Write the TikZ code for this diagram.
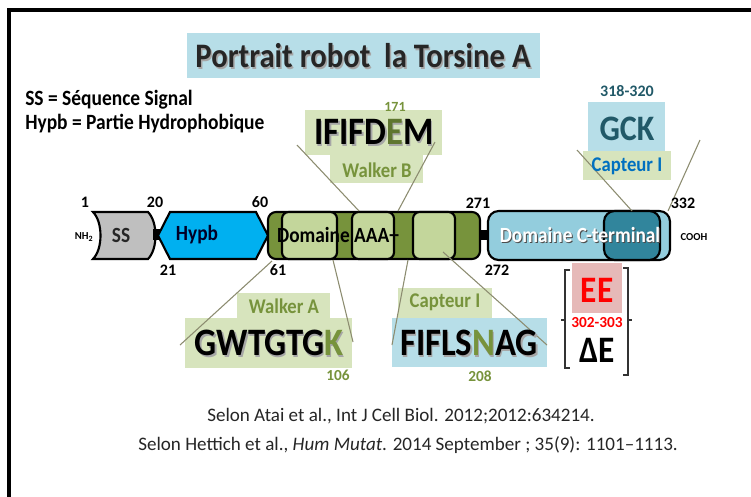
\documentclass[tikz,border=0pt]{standalone}
\usepackage{graphicx}
\usepackage{fontspec}
\setmainfont{Carlito}
\definecolor{titlebg}{HTML}{B7DEE8}
\definecolor{lgreen}{HTML}{D7E4BD}
\definecolor{olivetxt}{HTML}{77933C}
\definecolor{aaafill}{HTML}{77933C}
\definecolor{aaain}{HTML}{C3D69B}
\definecolor{hypbfill}{HTML}{00B0F0}
\definecolor{ssgray}{HTML}{BFBFBF}
\definecolor{ctlight}{HTML}{93CDDD}
\definecolor{ctdark}{HTML}{31859C}
\definecolor{gcktxt}{HTML}{215968}
\definecolor{capblue}{HTML}{0070C0}
\definecolor{eepink}{HTML}{E6B9B8}
\definecolor{calline}{HTML}{8C8C70}
\definecolor{txtdark}{HTML}{262626}
\definecolor{shade}{HTML}{A6A6A6}
% slightly condensed look of the slide lettering
\newcommand{\tallx}[1]{\scalebox{1}[1.12]{#1}}
\begin{document}
\begin{tikzpicture}[x=0.75pt,y=-0.75pt,
  lbl/.style={inner sep=0,outer sep=0,font=\bfseries\fontsize{12}{14}\selectfont,text=black},
  seqtxt/.style={inner sep=0,outer sep=0,font=\bfseries\fontsize{26}{30}\selectfont},
  tagtxt/.style={inner sep=0,outer sep=0,font=\bfseries\fontsize{14}{16}\selectfont,text=olivetxt},
  bartxt/.style={inner sep=0,outer sep=0,font=\bfseries\fontsize{14.5}{16}\selectfont},
  numtxt/.style={inner sep=0,outer sep=0,font=\bfseries\fontsize{11.5}{13}\selectfont,text=olivetxt},
  callout/.style={draw=calline,line width=0.8pt},
  barline/.style={draw=black,line width=1.6pt},
  inbox/.style={barline,fill=aaain,rounded corners=5pt},
  cite/.style={inner sep=0,outer sep=0,font=\fontsize{14.3}{16}\selectfont,text=txtdark}]
\useasboundingbox (0,0) rectangle (751,497);
\fill[white] (0,0) rectangle (751,497);

% frame
\draw[line width=2.4pt] (9,497) -- (9,10) -- (751,10);

% title
\fill[titlebg] (187,33) rectangle (540,78);
\node[inner sep=0,font=\bfseries\fontsize{23}{27}\selectfont,text=shade] (titlesh) at (364.5,57.5) {\tallx{Portrait robot\ \ la Torsine A}};
\node[inner sep=0,font=\bfseries\fontsize{23}{27}\selectfont,text=txtdark] (title) at (363,56) {\tallx{Portrait robot\ \ la Torsine A}};

% legend
\node[anchor=west,inner sep=0,font=\bfseries\fontsize{14.6}{16}\selectfont] (leg1) at (25,100) {\tallx{SS = Séquence Signal}};
\node[anchor=west,inner sep=0,font=\bfseries\fontsize{14.6}{16}\selectfont] (leg2) at (25,124) {\tallx{Hypb = Partie Hydrophobique}};

% callout boxes
\fill[lgreen] (305,110) rectangle (442,155);
\fill[lgreen] (330,155) rectangle (423,183);
\fill[titlebg] (588,102) rectangle (665,151);
\fill[lgreen] (583,151) rectangle (671,180);
\fill[lgreen] (237,293) rectangle (330,318);
\fill[lgreen] (185,318) rectangle (352,368);
\fill[lgreen] (398,288) rectangle (492,318);
\fill[titlebg] (392,318) rectangle (547,367);
\fill[eepink] (572,263) rectangle (622,313);

% protein bar
\draw[barline,fill=ssgray] (93,212) -- (148,212) .. controls (158,222) and (158,249) .. (148,259) -- (93,259) .. controls (103,249) and (103,222) .. (93,212) -- cycle;
\fill[black] (153,229) rectangle (161,240);
\draw[barline,fill=hypbfill] (158,235.5) -- (170,212) -- (256,212) -- (268,235.5) -- (256,259) -- (170,259) -- cycle;
\draw[barline,fill=aaafill,rounded corners=6pt] (268,212) rectangle (480,259);
\draw[inbox] (282,212) rectangle (337,259);
\draw[inbox] (352,212) rectangle (394,259);
\draw[inbox] (413,212) rectangle (455,259);
\fill[black] (479,230) rectangle (489,240);
\draw[barline,fill=ctlight,rounded corners=8pt] (488,211) rectangle (670,260);
\draw[barline,fill=ctdark,rounded corners=8pt] (604,211) rectangle (660,260);

% callout end points
\coordinate (wb1) at (297,145);
\coordinate (wb2) at (359,211);
\coordinate (wb3) at (435,142);
\coordinate (wb4) at (398,211);
\coordinate (gc1) at (577,150);
\coordinate (gc2) at (632,211);
\coordinate (gc3) at (700,140);
\coordinate (gc4) at (668,211);
\coordinate (wa1) at (272,261);
\coordinate (wa2) at (180,345);
\coordinate (wa3) at (333,260);
\coordinate (wa4) at (353,342);
\coordinate (cp1) at (408,260);
\coordinate (cp2) at (392,345);
\coordinate (cp3) at (443,252);
\coordinate (cp4) at (547,345);
\draw[callout] (wb1) -- (wb2);
\draw[callout] (wb3) -- (wb4);
\draw[callout] (gc1) -- (gc2);
\draw[callout] (gc3) -- (gc4);
\draw[callout] (wa1) -- (wa2);
\draw[callout] (wa3) -- (wa4);
\draw[callout] (cp1) -- (cp2);
\draw[callout] (cp3) -- (cp4);

% bar texts
\node[bartxt,text=txtdark] (sst) at (121,235) {\tallx{SS}};
\node[bartxt,text=black!85!blue] (hypt) at (197,235) {\tallx{Hypb}};
\node[bartxt,text=black] (aaat) at (338,235) {\tallx{Domaine AAA+}};
\node[bartxt,text=black!70] (ctsh) at (581,236) {\tallx{Domaine C-terminal}};
\node[bartxt,text=white] (ctt) at (580,235) {\tallx{Domaine C-terminal}};

% positions
\node[lbl] (p1) at (85,202) {1};
\node[lbl] (p20) at (155,202) {20};
\node[lbl] (p60) at (260,202) {60};
\node[lbl] (p271) at (478,203) {271};
\node[lbl] (p332) at (683,203) {332};
\node[lbl] (p21) at (168,270) {21};
\node[lbl] (p61) at (278,270) {61};
\node[lbl] (p272) at (497,270) {272};
\node[lbl,font=\bfseries\fontsize{8}{9}\selectfont] (nh2) at (84,237) {NH\textsubscript{2}};
\node[lbl,font=\bfseries\fontsize{8}{9}\selectfont] (cooh) at (694,237) {COOH};

% Walker B
\node[numtxt,font=\bfseries\fontsize{10.5}{12}\selectfont] (n171) at (395,107) {171};
\node[seqtxt,text=shade] (wbsh) at (375.5,133.5) {\tallx{IFIFDEM}};
\node[seqtxt,text=black] (wbseq) at (374,132) {\tallx{IFIFD\textcolor{olivetxt!80!black}{E}M}};
\node[tagtxt] (wbt) at (377,170) {\tallx{Walker B}};

% Capteur I (GCK)
\node[inner sep=0,font=\bfseries\fontsize{12}{14}\selectfont,text=gcktxt] (n318) at (627,91) {318-320};
\node[inner sep=0,font=\bfseries\fontsize{24}{28}\selectfont,text=gcktxt] (gck) at (627,129) {\tallx{GCK}};
\node[tagtxt,text=capblue] (capt1) at (627,166) {\tallx{Capteur I}};

% Walker A
\node[tagtxt] (wat) at (284,306) {\tallx{Walker A}};
\node[seqtxt,text=shade] (wash) at (270.5,344.5) {\tallx{GWTGTGK}};
\node[seqtxt,text=black] (waseq) at (269,343) {\tallx{GWTGTG\textcolor{olivetxt}{K}}};
\node[numtxt] (n106) at (338,375) {106};

% Capteur I (FIFLSNAG)
\node[tagtxt] (capt2) at (445,302) {\tallx{Capteur I}};
\node[seqtxt,text=shade] (cpsh) at (470.5,344.5) {\tallx{FIFLSNAG}};
\node[seqtxt,text=black] (cpseq) at (469,343) {\tallx{FIFLS\textcolor{olivetxt}{N}AG}};
\node[numtxt] (n208) at (480,376) {208};

% EE / delta E
\draw[line width=0.9pt,draw=black!80] (570,270) -- (565,270) -- (565,368) -- (570,368);
\draw[line width=0.9pt,draw=black!80] (565,320) -- (561,320);
\draw[line width=0.9pt,draw=black!80] (623,268) -- (628,268) -- (628,375) -- (623,375);
\draw[line width=0.9pt,draw=black!80] (628,320) -- (632,320);
\node[inner sep=0,font=\bfseries\fontsize{25}{28}\selectfont,text=red] (ee) at (597,290) {\tallx{EE}};
\node[inner sep=0,font=\bfseries\fontsize{11.5}{13}\selectfont,text=red] (n302) at (597,323) {302-303};
\node[inner sep=0,font=\bfseries\fontsize{25}{28}\selectfont,text=black] (de) at (597,350) {\tallx{ΔE}};

% references
\node[cite] (ref1) at (401,416) {Selon Atai et al., Int J Cell Biol. 2012;2012:634214.};
\node[cite] (ref2) at (408,445) {Selon Hettich et al., \textit{Hum Mutat}. 2014 September ; 35(9): 1101–1113.};
\end{tikzpicture}
\end{document}
